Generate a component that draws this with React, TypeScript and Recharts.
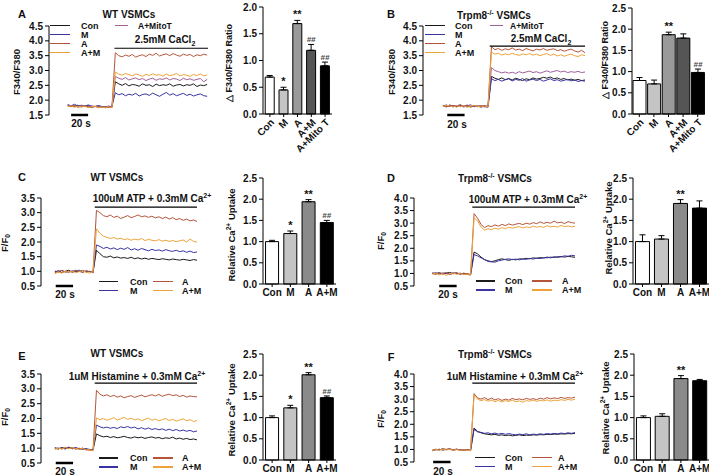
import React from "react";
import {
  LineChart,
  Line,
  XAxis,
  YAxis,
  ReferenceLine,
  BarChart,
  Bar,
  Cell,
  ErrorBar,
  LabelList,
} from "recharts";

const FONT = '"Liberation Sans", Arial, Helvetica, sans-serif';

const cCon = "#1b1b1b";
const cM = "#3a33a3";
const cA = "#b4553a";
const cAM = "#eea33a";
const cMito = "#a0609a";

// ---------- traces, 4 s sampling ----------
// panel A (WT, CaCl2) 14 baseline + 28 after
const aCon = [1.82, 1.8, 1.79, 1.83, 1.78, 1.8, 1.81, 1.77, 1.79, 1.8, 1.76, 1.78, 1.77, 1.76,
  2.62, 2.55, 2.5, 2.56, 2.48, 2.53, 2.51, 2.47, 2.55, 2.5, 2.52, 2.46, 2.54, 2.49, 2.52, 2.5, 2.55, 2.47, 2.51, 2.53, 2.48, 2.52, 2.5, 2.55, 2.46, 2.51, 2.49, 2.53];
const aM = [1.85, 1.81, 1.86, 1.8, 1.83, 1.79, 1.84, 1.8, 1.78, 1.82, 1.79, 1.77, 1.8, 1.78,
  2.25, 2.18, 2.22, 2.15, 2.2, 2.17, 2.23, 2.14, 2.19, 2.21, 2.16, 2.24, 2.18, 2.13, 2.2, 2.26, 2.17, 2.22, 2.15, 2.19, 2.23, 2.16, 2.2, 2.14, 2.18, 2.21, 2.15, 2.13];
const aA = [1.8, 1.78, 1.82, 1.76, 1.79, 1.81, 1.77, 1.75, 1.79, 1.76, 1.78, 1.74, 1.77, 1.75,
  3.6, 3.5, 3.46, 3.52, 3.48, 3.54, 3.45, 3.5, 3.53, 3.47, 3.55, 3.51, 3.58, 3.49, 3.53, 3.56, 3.5, 3.57, 3.52, 3.48, 3.55, 3.51, 3.54, 3.47, 3.53, 3.5, 3.55, 3.52];
const aAM = [1.78, 1.81, 1.76, 1.8, 1.77, 1.79, 1.75, 1.78, 1.8, 1.74, 1.77, 1.75, 1.78, 1.74,
  2.95, 2.88, 2.84, 2.9, 2.86, 2.82, 2.88, 2.85, 2.8, 2.87, 2.83, 2.89, 2.84, 2.86, 2.81, 2.88, 2.83, 2.85, 2.9, 2.82, 2.86, 2.84, 2.8, 2.87, 2.83, 2.88, 2.82, 2.85];
const aMito = [1.83, 1.79, 1.81, 1.78, 1.82, 1.8, 1.77, 1.81, 1.78, 1.79, 1.75, 1.78, 1.76, 1.77,
  2.8, 2.74, 2.7, 2.76, 2.68, 2.72, 2.75, 2.69, 2.73, 2.66, 2.71, 2.74, 2.67, 2.72, 2.7, 2.75, 2.68, 2.73, 2.71, 2.66, 2.74, 2.69, 2.72, 2.67, 2.7, 2.73, 2.62, 2.7];

// panel B (Trpm8-/-, CaCl2)
const bCon = [1.83, 1.79, 1.82, 1.78, 1.81, 1.84, 1.79, 1.8, 1.77, 1.81, 1.79, 1.82, 1.78, 1.8,
  2.8, 2.74, 2.7, 2.75, 2.69, 2.73, 2.68, 2.74, 2.7, 2.66, 2.72, 2.69, 2.75, 2.71, 2.73, 2.77, 2.74, 2.78, 2.72, 2.75, 2.7, 2.73, 2.68, 2.71, 2.67, 2.7, 2.66, 2.68];
const bM = [1.8, 1.84, 1.78, 1.82, 1.79, 1.83, 1.77, 1.81, 1.84, 1.78, 1.8, 1.77, 1.79, 1.76,
  2.72, 2.66, 2.7, 2.64, 2.69, 2.72, 2.65, 2.7, 2.67, 2.73, 2.64, 2.68, 2.71, 2.66, 2.7, 2.64, 2.68, 2.72, 2.66, 2.69, 2.64, 2.67, 2.7, 2.65, 2.68, 2.63, 2.66, 2.64];
const bA = [1.82, 1.78, 1.84, 1.8, 1.77, 1.83, 1.79, 1.82, 1.78, 1.81, 1.8, 1.77, 1.81, 1.78,
  3.8, 3.7, 3.74, 3.68, 3.73, 3.7, 3.76, 3.69, 3.72, 3.67, 3.74, 3.7, 3.66, 3.72, 3.69, 3.74, 3.68, 3.71, 3.73, 3.67, 3.7, 3.65, 3.69, 3.72, 3.66, 3.62, 3.68, 3.6];
const bAM = [1.79, 1.83, 1.8, 1.77, 1.82, 1.78, 1.81, 1.76, 1.8, 1.83, 1.78, 1.81, 1.77, 1.79,
  3.62, 3.55, 3.58, 3.52, 3.56, 3.53, 3.58, 3.54, 3.51, 3.56, 3.53, 3.57, 3.52, 3.55, 3.5, 3.54, 3.57, 3.51, 3.55, 3.49, 3.53, 3.48, 3.52, 3.55, 3.5, 3.47, 3.53, 3.5];
const bMito = [1.81, 1.77, 1.83, 1.79, 1.82, 1.78, 1.8, 1.84, 1.79, 1.81, 1.78, 1.8, 1.82, 1.79,
  3.1, 3.0, 2.96, 2.92, 2.95, 2.91, 2.94, 2.9, 2.96, 2.92, 2.95, 2.98, 2.93, 2.96, 2.91, 2.95, 2.99, 2.94, 2.97, 3.0, 2.95, 2.98, 2.93, 2.96, 2.94, 2.97, 2.93, 2.95];

// panel C (WT, ATP) 12 baseline + 30 after
const cConT = [0.98, 1.02, 0.96, 1.0, 1.04, 0.97, 1.01, 0.99, 1.03, 0.98, 1.0, 0.95,
  1.72, 1.6, 1.5, 1.48, 1.52, 1.46, 1.49, 1.45, 1.47, 1.44, 1.48, 1.43, 1.46, 1.42, 1.45, 1.41, 1.44, 1.42, 1.4, 1.43, 1.41, 1.39, 1.42, 1.4, 1.38, 1.41, 1.39, 1.37, 1.4, 1.38];
const cMT = [1.01, 0.97, 1.03, 0.99, 0.96, 1.02, 1.0, 1.04, 0.97, 1.01, 0.99, 0.96,
  1.9, 1.85, 1.78, 1.82, 1.76, 1.8, 1.74, 1.79, 1.75, 1.81, 1.73, 1.77, 1.72, 1.78, 1.74, 1.7, 1.75, 1.71, 1.73, 1.69, 1.74, 1.7, 1.68, 1.72, 1.67, 1.7, 1.65, 1.69, 1.64, 1.66];
const cAT = [0.95, 1.0, 1.03, 0.97, 1.01, 0.98, 1.04, 1.0, 0.96, 1.02, 0.99, 0.97,
  3.08, 3.0, 2.9, 2.86, 2.92, 2.84, 2.88, 2.8, 2.85, 2.9, 2.83, 2.87, 2.92, 2.86, 2.89, 2.84, 2.88, 2.82, 2.86, 2.8, 2.85, 2.78, 2.83, 2.76, 2.8, 2.74, 2.78, 2.72, 2.75, 2.7];
const cAMT = [0.92, 0.97, 0.94, 1.0, 0.96, 1.01, 0.95, 0.99, 1.02, 0.97, 0.94, 0.98,
  2.45, 2.3, 2.2, 2.16, 2.12, 2.15, 2.1, 2.13, 2.08, 2.11, 2.06, 2.1, 2.07, 2.12, 2.05, 2.09, 2.06, 2.04, 2.08, 2.03, 2.06, 2.02, 2.05, 2.01, 2.04, 2.07, 2.0, 2.1, 2.02, 2.0];

// panel D (Trpm8-/-, ATP)
const dCon = [1.02, 0.99, 1.03, 0.98, 1.01, 1.04, 0.99, 1.02, 0.97, 1.0, 0.98, 0.96,
  1.85, 1.78, 1.65, 1.55, 1.5, 1.47, 1.5, 1.55, 1.58, 1.55, 1.52, 1.56, 1.54, 1.58, 1.57, 1.6, 1.58, 1.62, 1.6, 1.63, 1.61, 1.65, 1.62, 1.66, 1.64, 1.67, 1.65, 1.68, 1.66, 1.64];
const dM = [0.99, 1.03, 0.98, 1.02, 1.0, 0.97, 1.03, 0.99, 1.01, 0.98, 0.96, 0.94,
  1.75, 1.7, 1.62, 1.55, 1.48, 1.46, 1.45, 1.5, 1.53, 1.56, 1.58, 1.55, 1.57, 1.54, 1.58, 1.56, 1.6, 1.57, 1.61, 1.59, 1.63, 1.62, 1.65, 1.63, 1.67, 1.66, 1.7, 1.68, 1.72, 1.7];
const dA = [1.0, 0.96, 1.02, 0.98, 1.04, 0.95, 1.0, 1.03, 0.97, 1.01, 0.99, 0.95,
  3.38, 3.2, 2.95, 2.82, 2.9, 2.86, 2.93, 2.88, 2.95, 2.9, 2.97, 2.92, 2.96, 2.99, 2.94, 3.0, 2.96, 3.02, 2.98, 3.05, 2.99, 3.03, 3.0, 3.08, 3.01, 3.04, 2.98, 3.06, 3.02, 3.0];
const dAM = [0.97, 1.01, 0.94, 0.99, 0.92, 0.98, 1.02, 0.96, 1.0, 0.95, 0.97, 0.93,
  3.2, 3.1, 2.85, 2.72, 2.78, 2.74, 2.8, 2.76, 2.82, 2.78, 2.84, 2.8, 2.83, 2.86, 2.81, 2.85, 2.82, 2.88, 2.84, 2.87, 2.83, 2.9, 2.85, 2.88, 2.84, 2.91, 2.86, 2.89, 2.85, 2.88];

// panel E (WT, histamine)
const eCon = [1.0, 0.97, 1.02, 0.99, 1.03, 0.98, 1.01, 0.97, 1.0, 0.95, 0.96, 0.93,
  1.48, 1.42, 1.38, 1.4, 1.36, 1.39, 1.35, 1.37, 1.4, 1.36, 1.34, 1.38, 1.35, 1.37, 1.33, 1.36, 1.38, 1.34, 1.36, 1.32, 1.35, 1.33, 1.37, 1.31, 1.34, 1.3, 1.33, 1.29, 1.31, 1.28];
const eM = [1.02, 0.98, 1.01, 0.97, 1.03, 0.99, 1.02, 0.98, 0.96, 0.99, 0.95, 0.94,
  1.78, 1.72, 1.68, 1.71, 1.67, 1.7, 1.66, 1.72, 1.69, 1.73, 1.68, 1.71, 1.65, 1.69, 1.64, 1.68, 1.63, 1.66, 1.62, 1.65, 1.6, 1.64, 1.59, 1.63, 1.58, 1.61, 1.57, 1.6, 1.55, 1.58];
const eA = [0.98, 1.01, 0.97, 1.03, 0.99, 1.02, 0.96, 1.0, 0.97, 0.95, 0.93, 0.92,
  2.95, 2.82, 2.76, 2.8, 2.74, 2.78, 2.72, 2.76, 2.7, 2.74, 2.77, 2.71, 2.75, 2.79, 2.73, 2.77, 2.8, 2.76, 2.81, 2.75, 2.79, 2.82, 2.77, 2.8, 2.74, 2.78, 2.72, 2.76, 2.74, 2.73];
const eAM = [0.96, 1.0, 0.97, 1.02, 0.98, 1.01, 0.99, 0.96, 1.0, 0.94, 0.95, 0.91,
  2.02, 1.96, 2.0, 1.94, 1.98, 2.03, 1.95, 1.99, 2.04, 1.97, 2.01, 1.95, 1.99, 1.93, 1.97, 2.01, 1.94, 1.98, 1.92, 1.96, 2.0, 1.93, 1.97, 1.91, 1.95, 1.99, 1.92, 1.96, 1.9, 1.93];

// panel F (Trpm8-/-, histamine)
const fCon = [0.96, 1.0, 0.98, 1.02, 0.99, 1.01, 0.97, 1.0, 0.98, 0.97, 0.99, 0.96,
  1.85, 1.72, 1.66, 1.62, 1.6, 1.58, 1.6, 1.56, 1.58, 1.55, 1.57, 1.54, 1.56, 1.58, 1.55, 1.57, 1.56, 1.58, 1.57, 1.59, 1.58, 1.6, 1.59, 1.61, 1.6, 1.62, 1.61, 1.63, 1.62, 1.64];
const fM = [0.95, 0.98, 1.01, 0.97, 1.0, 1.02, 0.98, 1.01, 0.97, 0.99, 0.98, 0.95,
  1.8, 1.7, 1.68, 1.64, 1.66, 1.62, 1.65, 1.61, 1.64, 1.6, 1.63, 1.6, 1.58, 1.61, 1.59, 1.62, 1.58, 1.61, 1.59, 1.62, 1.6, 1.63, 1.61, 1.64, 1.62, 1.65, 1.63, 1.66, 1.64, 1.67];
const fA = [0.97, 1.01, 0.98, 1.03, 1.0, 1.02, 0.99, 1.01, 0.98, 0.97, 0.99, 0.97,
  3.22, 3.05, 3.0, 3.06, 2.98, 3.04, 2.97, 3.02, 2.95, 3.0, 2.96, 3.03, 2.98, 3.01, 2.97, 3.03, 2.99, 3.02, 2.98, 3.04, 3.0, 3.06, 3.01, 3.05, 3.02, 3.07, 3.03, 3.06, 3.04, 3.08];
const fAM = [0.95, 0.99, 0.97, 1.01, 0.98, 1.0, 0.97, 0.99, 0.96, 0.98, 0.97, 0.95,
  3.15, 3.0, 2.94, 2.98, 2.92, 2.96, 2.9, 2.95, 2.89, 2.94, 2.91, 2.96, 2.9, 2.93, 2.88, 2.94, 2.92, 2.96, 2.91, 2.95, 2.93, 2.97, 2.92, 2.96, 2.94, 2.98, 2.95, 2.99, 2.96, 3.0];

// ---------- bar summaries ----------
const catsMito = ["Con", "M", "A", "A+M", "A+Mito T"];
const cats4 = ["Con", "M", "A", "A+M"];

const barAMean = [0.69, 0.45, 1.69, 1.19, 0.9];
const barAErr = [0.03, 0.05, 0.06, 0.11, 0.07];
const barASig = ["", "*", "**", "##", "##"];

const barBMean = [0.79, 0.71, 1.87, 1.79, 0.98];
const barBErr = [0.07, 0.09, 0.06, 0.1, 0.08];
const barBSig = ["", "", "**", "", "##"];

const barCMean = [1.0, 1.19, 1.94, 1.45];
const barCErr = [0.03, 0.06, 0.05, 0.05];
const barCSig = ["", "*", "**", "##"];

const barDMean = [1.0, 1.06, 1.9, 1.79];
const barDErr = [0.16, 0.08, 0.09, 0.17];
const barDSig = ["", "", "**", ""];

const barEMean = [1.0, 1.23, 2.01, 1.47];
const barEErr = [0.04, 0.06, 0.05, 0.04];
const barESig = ["", "*", "**", "##"];

const barFMean = [1.0, 1.03, 1.92, 1.87];
const barFErr = [0.04, 0.06, 0.07, 0.03];
const barFSig = ["", "", "**", ""];

const fills5 = ["#ffffff", "#c4c4c4", "#9a9a9a", "#555555", "#000000"];
const fills4 = ["#ffffff", "#c4c4c4", "#8a8a8a", "#000000"];

const ticksCa = [1.5, 2.0, 2.5, 3.0, 3.5, 4.0, 4.5];
const ticksWT = [0.5, 1.0, 1.5, 2.0, 2.5, 3.0, 3.5];
const ticksKO = [0.5, 1.0, 1.5, 2.0, 2.5, 3.0, 3.5, 4.0];
const ticks2 = [0, 0.5, 1.0, 1.5, 2.0];
const ticks25 = [0, 0.5, 1.0, 1.5, 2.0, 2.5];

const STEP = 4;

function makeRows(series: Record<string, number[]>) {
  const keys = Object.keys(series);
  return series[keys[0]].map((_, i) => {
    const row: any = { t: i * STEP };
    keys.forEach((k) => (row[k] = series[k][i]));
    return row;
  });
}

function makeBars(cats: string[], mean: number[], err: number[], sig: string[]) {
  return cats.map((name, i) => ({ name, value: mean[i], err: err[i], range: [0, err[i]], sig: sig[i] }));
}

const tickStyle = { fontSize: 10, fontWeight: 700, fill: "#111", fontFamily: FONT };

type S = { key: string; color: string };

function TraceChart(props: any) {
  const { left, top, width, height, yw, margin, xDomain, yDomain, yTicks, rows, series, stim, scale } = props;
  return (
    <div style={{ position: "absolute", left, top }}>
      <LineChart width={width} height={height} data={rows} margin={margin}>
        <XAxis type="number" dataKey="t" domain={xDomain} hide allowDataOverflow />
        <YAxis
          type="number"
          domain={yDomain}
          ticks={yTicks}
          interval={0}
          width={yw}
          tickSize={4}
          tickMargin={2}
          stroke="#000"
          tick={tickStyle}
          tickFormatter={(v: number) => v.toFixed(1)}
          allowDataOverflow
        />
        {series.map((s: S) => (
          <Line key={s.key} type="linear" dataKey={s.key} stroke={s.color} strokeWidth={1} dot={false} isAnimationActive={false} />
        ))}
        <ReferenceLine
          segment={[{ x: stim[0], y: stim[2] }, { x: stim[1], y: stim[2] }]}
          stroke="#000"
          strokeWidth={1.2}
          ifOverflow="visible"
        />
        <ReferenceLine
          segment={[{ x: scale[0], y: scale[2] }, { x: scale[1], y: scale[2] }]}
          stroke="#000"
          strokeWidth={2.5}
          ifOverflow="visible"
        />
      </LineChart>
    </div>
  );
}

function sigLabel(rows: any[]) {
  return (p: any) => {
    const vb = p.viewBox && p.viewBox.width !== undefined ? p.viewBox : p;
    const r = rows.find((d) => d.name === p.value);
    if (!r || !r.sig) return null;
    const h = Math.abs(vb.height);
    const ppu = h / r.value;
    const y = vb.y - r.err * ppu - 2;
    const hash = r.sig.startsWith("#");
    return (
      <text
        x={vb.x + vb.width / 2}
        y={y}
        textAnchor="middle"
        fontSize={hash ? 8 : 11}
        fontWeight={700}
        fontStyle={hash ? "italic" : "normal"}
        fill={hash ? "#444" : "#111"}
        fontFamily={FONT}
      >
        {r.sig}
      </text>
    );
  };
}

function BarPanel(props: any) {
  const { left, top, width, height, yw, margin, xh, yDomain, yTicks, rows, fills, rotate, gap } = props;
  return (
    <div style={{ position: "absolute", left, top }}>
      <BarChart width={width} height={height} data={rows} margin={margin} barCategoryGap={gap}>
        <XAxis
          dataKey="name"
          height={xh}
          interval={0}
          tickSize={3}
          tickMargin={rotate ? 1 : 2}
          stroke="#000"
          tick={tickStyle}
          angle={rotate ? -45 : 0}
          textAnchor={rotate ? "end" : "middle"}
        />
        <YAxis
          type="number"
          domain={yDomain}
          ticks={yTicks}
          interval={0}
          width={yw}
          tickSize={4}
          tickMargin={2}
          stroke="#000"
          tick={tickStyle}
          tickFormatter={(v: number) => v.toFixed(1)}
        />
        <Bar dataKey="value" stroke="#000" strokeWidth={1} isAnimationActive={false}>
          {rows.map((r: any, i: number) => (
            <Cell key={r.name} fill={fills[i]} />
          ))}
          <ErrorBar dataKey="range" width={3} stroke="#000" strokeWidth={1} direction="y" />
          <LabelList dataKey="name" content={sigLabel(rows)} />
        </Bar>
      </BarChart>
    </div>
  );
}

function Txt(props: any) {
  const { x, y, size = 10, anchor = "middle", rot = false, children, weight = 700 } = props;
  const tx = anchor === "middle" ? "-50%" : anchor === "end" ? "-100%" : "0";
  return (
    <div
      style={{
        position: "absolute",
        left: x,
        top: y,
        transform: `translate(${tx},-50%)${rot ? " rotate(-90deg)" : ""}`,
        fontSize: size,
        fontWeight: weight,
        whiteSpace: "nowrap",
        lineHeight: 1,
        color: "#111",
      }}
    >
      {children}
    </div>
  );
}

function Key(props: any) {
  const { x1, x2, y, color, label, lx, size = 9 } = props;
  return (
    <>
      <div style={{ position: "absolute", left: x1, top: y - 0.75, width: x2 - x1, height: 1.5, background: color }} />
      <Txt x={lx} y={y} anchor="start" size={size}>
        {label}
      </Txt>
    </>
  );
}

const Sup = ({ children }: any) => <span style={{ fontSize: "0.7em", verticalAlign: "0.55em" }}>{children}</span>;
const Sub = ({ children }: any) => <span style={{ fontSize: "0.7em", verticalAlign: "-0.3em" }}>{children}</span>;

const sA: S[] = [
  { key: "con", color: cCon },
  { key: "m", color: cM },
  { key: "mito", color: cMito },
  { key: "a", color: cA },
  { key: "am", color: cAM },
];
const s4: S[] = [
  { key: "con", color: cCon },
  { key: "m", color: cM },
  { key: "a", color: cA },
  { key: "am", color: cAM },
];

export default function App() {
  const rowsA = makeRows({ con: aCon, m: aM, a: aA, am: aAM, mito: aMito });
  const rowsB = makeRows({ con: bCon, m: bM, a: bA, am: bAM, mito: bMito });
  const rowsC = makeRows({ con: cConT, m: cMT, a: cAT, am: cAMT });
  const rowsD = makeRows({ con: dCon, m: dM, a: dA, am: dAM });
  const rowsE = makeRows({ con: eCon, m: eM, a: eA, am: eAM });
  const rowsF = makeRows({ con: fCon, m: fM, a: fA, am: fAM });

  const barsA = makeBars(catsMito, barAMean, barAErr, barASig);
  const barsB = makeBars(catsMito, barBMean, barBErr, barBSig);
  const barsC = makeBars(cats4, barCMean, barCErr, barCSig);
  const barsD = makeBars(cats4, barDMean, barDErr, barDSig);
  const barsE = makeBars(cats4, barEMean, barEErr, barESig);
  const barsF = makeBars(cats4, barFMean, barFErr, barFSig);

  const ylab = "\u25B3 F340/F380 Ratio";

  return (
    <div
      style={{
        position: "absolute",
        left: 0,
        top: 0,
        width: 709,
        height: 476,
        background: "#fff",
        overflow: "hidden",
        fontFamily: FONT,
      }}
    >
      {/* ---- A ---- */}
      <TraceChart left={0} top={0} width={215} height={135} yw={49} margin={{ top: 26, right: 7, bottom: 20, left: 0 }}
        xDomain={[-22, 165]} yDomain={[1.5, 4.5]} yTicks={ticksCa} rows={rowsA} series={sA}
        stim={[55, 165, 3.75]} scale={[4, 24, 1.5]} />
      <BarPanel left={230} top={0} width={110} height={160} yw={33} margin={{ top: 7, right: 8, bottom: 0, left: 0 }}
        xh={46} yDomain={[0, 2]} yTicks={ticks2} rows={barsA} fills={fills5} rotate gap="16%" />
      <Txt x={22} y={14} size={11}>A</Txt>
      <Txt x={129} y={15}>WT VSMCs</Txt>
      <Txt x={17} y={72} size={9.5} rot>F340/F380</Txt>
      <Key x1={50} x2={70} y={25.5} color={cCon} label="Con" lx={81} />
      <Key x1={50} x2={70} y={34.5} color={cM} label="M" lx={81} />
      <Key x1={50} x2={70} y={43.5} color={cA} label="A" lx={81} />
      <Key x1={50} x2={70} y={52.5} color={cAM} label="A+M" lx={81} />
      <Key x1={115} x2={128} y={25.5} color={cMito} label="A+MitoT" lx={138} size={8.5} />
      <Txt x={165} y={40.5}>2.5mM CaCl<Sub>2</Sub></Txt>
      <Txt x={81} y={124}>20 s</Txt>
      <Txt x={229} y={63} size={9} rot>{ylab}</Txt>

      {/* ---- B ---- */}
      <TraceChart left={355} top={0} width={235} height={135} yw={68} margin={{ top: 26, right: 5, bottom: 20, left: 0 }}
        xDomain={[-23, 164]} yDomain={[1.5, 4.5]} yTicks={ticksCa} rows={rowsB} series={sA}
        stim={[54, 164, 3.82]} scale={[5, 25, 1.5]} />
      <BarPanel left={585} top={0} width={124} height={160} yw={47} margin={{ top: 8, right: 4, bottom: 0, left: 0 }}
        xh={46} yDomain={[0, 2.5]} yTicks={ticks25} rows={barsB} fills={fills5} rotate gap="7%" />
      <Txt x={391} y={14} size={11}>B</Txt>
      <Txt x={494} y={15}>Trpm8<Sup>-/-</Sup> VSMCs</Txt>
      <Txt x={392} y={72} size={9.5} rot>F340/F380</Txt>
      <Key x1={425} x2={445} y={25.5} color={cCon} label="Con" lx={455} />
      <Key x1={425} x2={445} y={34.5} color={cM} label="M" lx={455} />
      <Key x1={425} x2={445} y={43.5} color={cA} label="A" lx={455} />
      <Key x1={425} x2={445} y={52.5} color={cAM} label="A+M" lx={455} />
      <Key x1={490} x2={503} y={25.5} color={cMito} label="A+MitoT" lx={510} size={8.5} />
      <Txt x={541} y={39.5}>2.5mM CaCl<Sub>2</Sub></Txt>
      <Txt x={457} y={125}>20 s</Txt>
      <Txt x={605} y={60} size={9} rot>{ylab}</Txt>

      {/* ---- C ---- */}
      <TraceChart left={0} top={155} width={205} height={145} yw={41} margin={{ top: 43, right: 8, bottom: 14, left: 0 }}
        xDomain={[-16, 164]} yDomain={[0.5, 3.5]} yTicks={ticksWT} rows={rowsC} series={s4}
        stim={[46, 164, 3.19]} scale={[1, 21, 0.5]} />
      <BarPanel left={230} top={155} width={110} height={149} yw={33} margin={{ top: 23, right: 4, bottom: 0, left: 0 }}
        xh={20} yDomain={[0, 2.5]} yTicks={ticks25} rows={barsC} fills={fills4} gap="14%" />
      <Txt x={22} y={177} size={11}>C</Txt>
      <Txt x={117} y={178}>WT VSMCs</Txt>
      <Txt x={6} y={243} size={9.5} rot>F/F<Sub>0</Sub></Txt>
      <Txt x={152} y={198}>100uM ATP + 0.3mM Ca<Sup>2+</Sup></Txt>
      <Key x1={99} x2={118} y={281.5} color={cCon} label="Con" lx={130} />
      <Key x1={99} x2={118} y={290.5} color={cM} label="M" lx={130} />
      <Key x1={153} x2={173} y={281.5} color={cA} label="A" lx={182} />
      <Key x1={153} x2={173} y={290.5} color={cAM} label="A+M" lx={182} />
      <Txt x={65} y={295}>20 s</Txt>
      <Txt x={231} y={235} size={9.5} rot>Relative Ca<Sup>2+</Sup> Uptake</Txt>

      {/* ---- D ---- */}
      <TraceChart left={355} top={155} width={225} height={145} yw={59} margin={{ top: 43, right: 5, bottom: 14, left: 0 }}
        xDomain={[-21, 164]} yDomain={[0.5, 4.0]} yTicks={ticksKO} rows={rowsD} series={s4}
        stim={[46, 164, 3.64]} scale={[8, 28, 0.5]} />
      <BarPanel left={585} top={155} width={124} height={149} yw={48} margin={{ top: 23, right: 0, bottom: 0, left: 0 }}
        xh={20} yDomain={[0, 2.5]} yTicks={ticks25} rows={barsD} fills={fills4} gap="13%" />
      <Txt x={391} y={178} size={11}>D</Txt>
      <Txt x={495} y={178}>Trpm8<Sup>-/-</Sup> VSMCs</Txt>
      <Txt x={382} y={241} size={9.5} rot>F/F<Sub>0</Sub></Txt>
      <Txt x={528} y={199}>100uM ATP + 0.3mM Ca<Sup>2+</Sup></Txt>
      <Key x1={476} x2={495} y={281} color={cCon} label="Con" lx={505} />
      <Key x1={476} x2={495} y={290} color={cM} label="M" lx={505} />
      <Key x1={532} x2={552} y={281} color={cA} label="A" lx={562} />
      <Key x1={532} x2={552} y={290} color={cAM} label="A+M" lx={562} />
      <Txt x={448} y={295}>20 s</Txt>
      <Txt x={608} y={228} size={9.5} rot>Relative Ca<Sup>2+</Sup> Uptake</Txt>

      {/* ---- E ---- */}
      <TraceChart left={0} top={315} width={205} height={161} yw={41} margin={{ top: 59, right: 8, bottom: 13, left: 0 }}
        xDomain={[-16, 164]} yDomain={[0.5, 3.5]} yTicks={ticksWT} rows={rowsE} series={s4}
        stim={[46, 164, 3.19]} scale={[1, 21, 0.5]} />
      <BarPanel left={230} top={315} width={110} height={161} yw={33} margin={{ top: 39, right: 4, bottom: 0, left: 0 }}
        xh={16} yDomain={[0, 2.5]} yTicks={ticks25} rows={barsE} fills={fills4} gap="14%" />
      <Txt x={22} y={356} size={11}>E</Txt>
      <Txt x={117} y={354}>WT VSMCs</Txt>
      <Txt x={6} y={417} size={9.5} rot>F/F<Sub>0</Sub></Txt>
      <Txt x={137} y={376}>1uM Histamine + 0.3mM Ca<Sup>2+</Sup></Txt>
      <Key x1={99} x2={118} y={458} color={cCon} label="Con" lx={130} />
      <Key x1={99} x2={118} y={467} color={cM} label="M" lx={130} />
      <Key x1={153} x2={173} y={458} color={cA} label="A" lx={182} />
      <Key x1={153} x2={173} y={467} color={cAM} label="A+M" lx={182} />
      <Txt x={65} y={472}>20 s</Txt>
      <Txt x={231} y={410} size={9.5} rot>Relative Ca<Sup>2+</Sup> Uptake</Txt>

      {/* ---- F ---- */}
      <TraceChart left={355} top={315} width={225} height={161} yw={59} margin={{ top: 59, right: 5, bottom: 14, left: 0 }}
        xDomain={[-21, 164]} yDomain={[0.5, 4.0]} yTicks={ticksKO} rows={rowsF} series={s4}
        stim={[46, 164, 3.64]} scale={[1, 21, 0.5]} />
      <BarPanel left={585} top={315} width={124} height={161} yw={49} margin={{ top: 39, right: 0, bottom: 0, left: 0 }}
        xh={16} yDomain={[0, 2.5]} yTicks={ticks25} rows={barsF} fills={fills4} gap="13%" />
      <Txt x={391} y={357} size={11}>F</Txt>
      <Txt x={495} y={354}>Trpm8<Sup>-/-</Sup> VSMCs</Txt>
      <Txt x={382} y={419} size={9.5} rot>F/F<Sub>0</Sub></Txt>
      <Txt x={515} y={376}>1uM Histamine + 0.3mM Ca<Sup>2+</Sup></Txt>
      <Key x1={475} x2={495} y={457.5} color={cCon} label="Con" lx={505} />
      <Key x1={475} x2={495} y={466.5} color={cM} label="M" lx={505} />
      <Key x1={532} x2={552} y={457.5} color={cA} label="A" lx={558} />
      <Key x1={532} x2={552} y={466.5} color={cAM} label="A+M" lx={558} />
      <Txt x={443} y={472}>20 s</Txt>
      <Txt x={605} y={408} size={9.5} rot>Relative Ca<Sup>2+</Sup> Uptake</Txt>
    </div>
  );
}
